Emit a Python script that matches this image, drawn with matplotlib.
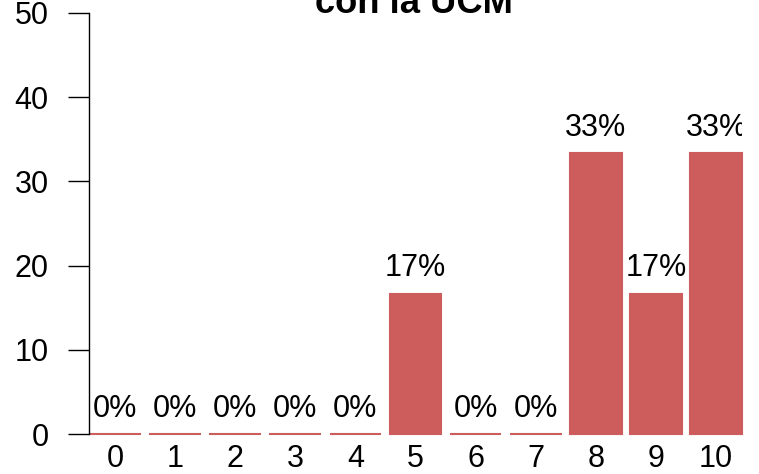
import matplotlib
matplotlib.use("Agg")
import matplotlib.pyplot as plt

# puntuaciones 0..10 y porcentaje de respuestas
categorias = ["0", "1", "2", "3", "4", "5", "6", "7", "8", "9", "10"]
porcentajes = [0, 0, 0, 0, 0, 16.67, 0, 0, 33.33, 16.67, 33.33]
etiquetas = ["0%", "0%", "0%", "0%", "0%", "17%", "0%", "0%", "33%", "17%", "33%"]
y_ticks = [0, 10, 20, 30, 40, 50]

plt.rcParams['font.family'] = ['Liberation Sans', 'DejaVu Sans']

W, H = 759, 474
fig = plt.figure(figsize=(W / 100, H / 100), dpi=100)
ax = fig.add_axes([89 / W, 40 / H, (742 - 89) / W, (434 - 13) / H])

xs = list(range(len(categorias)))
barras = ax.bar(xs, porcentajes, width=0.86, color='#cd5c5c', edgecolor='#cd5c5c', linewidth=1.5)
for b in barras:
    b.set_clip_on(False)  # so the zero-height bars show as a red line

# etiquetas de porcentaje encima de cada barra
for x, v, lab in zip(xs, porcentajes, etiquetas):
    ax.annotate(lab, (x, v), xytext=(0, 12.5), textcoords='offset points',
                ha='center', va='baseline', fontsize=22, clip_on=True)

ax.set_xlim(-0.43, len(categorias) - 1 + 0.43)
ax.set_ylim(0, 50)
ax.set_yticks(y_ticks)
ax.set_xticks(xs)
ax.set_xticklabels(categorias)

for s in ['top', 'right', 'bottom']:
    ax.spines[s].set_visible(False)
ax.spines['left'].set_linewidth(1)
ax.tick_params(axis='y', length=15, width=1, pad=14, labelsize=22)
ax.tick_params(axis='x', length=0, pad=7, labelsize=22)

# titulo cortado por el borde superior
fig.text(414 / W, (H - 13) / H, "con la UCM", ha='center', va='baseline',
         fontsize=26.2, fontweight='bold')

fig.savefig("out.png", dpi=100)
